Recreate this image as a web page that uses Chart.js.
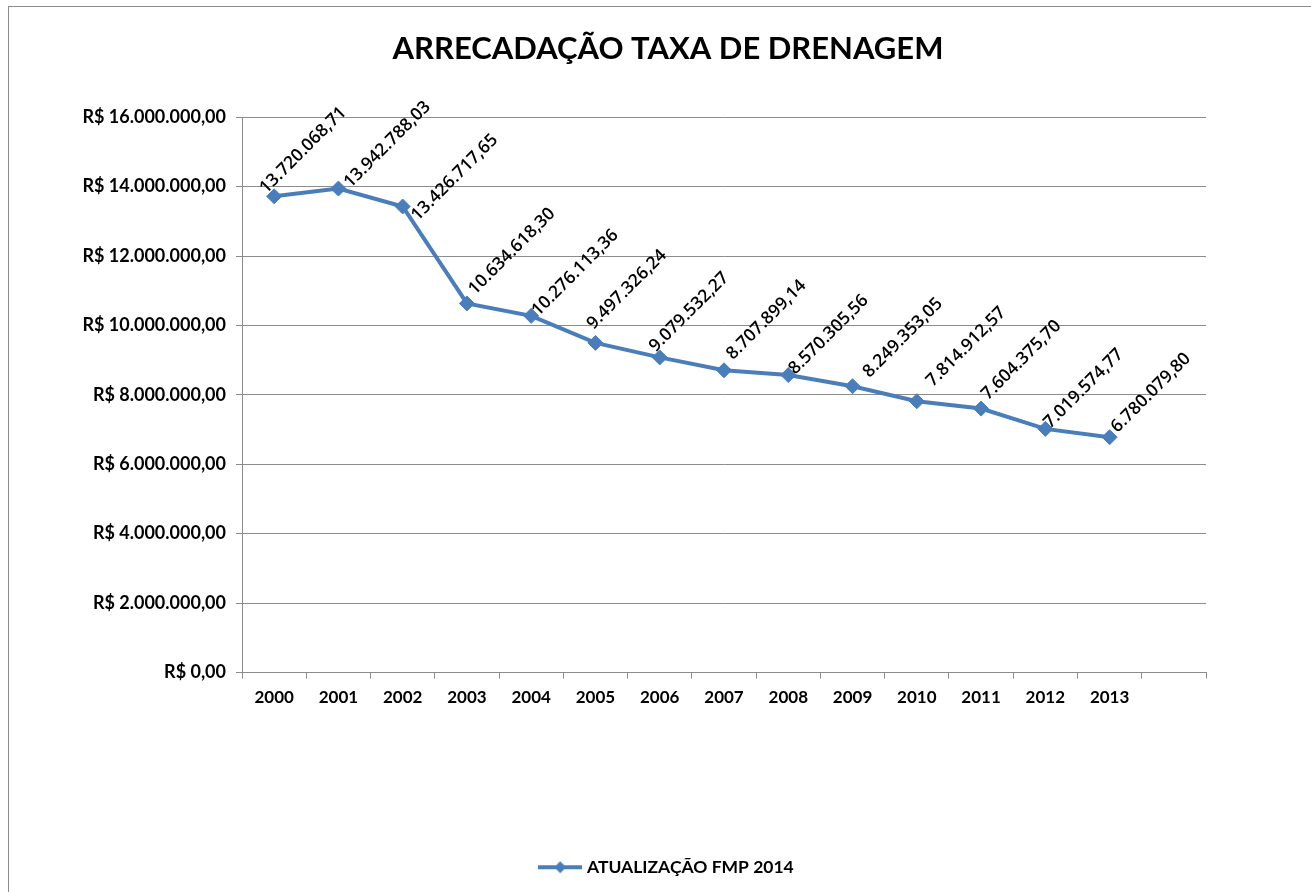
<!DOCTYPE html>
<html>
<head>
<meta charset="utf-8">
<script src="https://cdn.jsdelivr.net/npm/chart.js@4/dist/chart.umd.min.js"></script>
<style>
  html, body { margin: 0; padding: 0; background: #fff; overflow: hidden; }
  canvas { display: block; }
</style>
</head>
<body>
<canvas id="line-chart" width="1311" height="892"></canvas>
<script>
var years = ['2000', '2001', '2002', '2003', '2004', '2005', '2006', '2007',
             '2008', '2009', '2010', '2011', '2012', '2013', ''];
var arrecadacao = [13720068.71, 13942788.03, 13426717.65, 10634618.30, 10276113.36,
                   9497326.24, 9079532.27, 8707899.14, 8570305.56, 8249353.05,
                   7814912.57, 7604375.70, 7019574.77, 6780079.80];
var yTicks = [0, 2000000, 4000000, 6000000, 8000000, 10000000, 12000000, 14000000, 16000000];

var FONT = 'Lato, "Liberation Sans", sans-serif';
var LABEL_FONT = '"Open Sans", Lato, sans-serif';
var BLUE = '#4a7ebb';

// numero no formato brasileiro: 1.234.567,89
function fmtBR(v) {
    var parts = Math.abs(v).toFixed(2).split('.');
    var inteiro = parts[0].replace(/\B(?=(\d{3})+(?!\d))/g, '.');
    return inteiro + ',' + parts[1];
}

// icone da legenda: linha com losango
var legendIcon = document.createElement('canvas');
legendIcon.width = 44;
legendIcon.height = 14;
(function () {
    var c = legendIcon.getContext('2d');
    c.strokeStyle = BLUE;
    c.lineWidth = 4;
    c.beginPath();
    c.moveTo(0, 7);
    c.lineTo(44, 7);
    c.stroke();
    c.fillStyle = BLUE;
    c.beginPath();
    c.moveTo(22, 1);
    c.lineTo(28, 7);
    c.lineTo(22, 13);
    c.lineTo(16, 7);
    c.closePath();
    c.fill();
})();

var frame = {
    id: 'frame',
    beforeDraw: function (chart) {
        var ctx = chart.ctx;
        ctx.save();
        ctx.fillStyle = '#fff';
        ctx.fillRect(0, 0, chart.width, chart.height);
        ctx.strokeStyle = '#8c8c8c';
        ctx.lineWidth = 1;
        ctx.strokeRect(8.5, 6.5, chart.width, chart.height);
        ctx.restore();
    }
};

// rotulos de valor inclinados; pequeno ajuste por ponto como no original
var labelNudge = [[-8, -2], [12, 0], [15, 15], [8, -8], [7, 1], [-2, -13], [-4, -5],
                  [9, -10], [7, 0], [17, -8], [16, -14], [7, -8], [5, 0], [8, -4]];
var valueLabels = {
    id: 'valueLabels',
    afterDatasetsDraw: function (chart) {
        var ctx = chart.ctx;
        var meta = chart.getDatasetMeta(0);
        ctx.save();
        ctx.font = '600 17.5px ' + LABEL_FONT;
        ctx.fillStyle = '#000';
        ctx.textAlign = 'left';
        ctx.textBaseline = 'alphabetic';
        meta.data.forEach(function (pt, i) {
            var v = chart.data.datasets[0].data[i];
            if (v == null) return;
            var n = labelNudge[i] || [7, -4];
            ctx.save();
            ctx.translate(pt.x + n[0], pt.y + n[1]);
            ctx.rotate(-Math.PI / 4);
            ctx.fillText(fmtBR(v), 0, 0);
            ctx.restore();
        });
        ctx.restore();
    }
};

var ctx = document.getElementById('line-chart').getContext('2d');
var myChart = new Chart(ctx, {
    type: 'line',
    data: {
        labels: years,
        datasets: [{
            label: 'ATUALIZAÇÃO FMP 2014',
            data: arrecadacao,
            borderColor: BLUE,
            backgroundColor: BLUE,
            borderWidth: 4,
            pointStyle: 'rectRot',
            pointRadius: 7.5,
            pointBackgroundColor: BLUE,
            pointBorderColor: BLUE,
            pointBorderWidth: 1,
            tension: 0
        }]
    },
    options: {
        responsive: false,
        animation: false,
        devicePixelRatio: 1,
        layout: { padding: { left: 30, right: 5, top: 20, bottom: 6 } },
        plugins: {
            title: {
                display: true,
                text: 'ARRECADAÇÃO TAXA DE DRENAGEM',
                color: '#000',
                font: { family: FONT, size: 31, weight: 'bold' },
                padding: { top: 10, bottom: 50 }
            },
            legend: {
                position: 'bottom',
                labels: {
                    usePointStyle: true,
                    pointStyle: legendIcon,
                    pointStyleWidth: 36,
                    boxHeight: 14,
                    color: '#000',
                    font: { family: FONT, size: 17.5, weight: 'bold' },
                    generateLabels: function (chart) {
                        return [{
                            text: chart.data.datasets[0].label,
                            pointStyle: legendIcon,
                            fillStyle: BLUE,
                            strokeStyle: BLUE,
                            lineWidth: 0,
                            datasetIndex: 0
                        }];
                    }
                }
            },
            tooltip: { enabled: false }
        },
        scales: {
            x: {
                offset: true,
                grid: { offset: true, drawOnChartArea: false, drawTicks: true, tickLength: 6, color: '#8c8c8c' },
                border: { color: '#8c8c8c', width: 1 },
                ticks: {
                    color: '#000',
                    maxRotation: 0,
                    autoSkip: false,
                    padding: 9,
                    font: { family: FONT, size: 17, weight: 'bold' }
                },
                afterFit: function (s) { s.height = 176; }
            },
            y: {
                min: 0,
                max: 16000000,
                afterBuildTicks: function (s) {
                    s.ticks = yTicks.map(function (v) { return { value: v }; });
                },
                grid: { color: '#8c8c8c', tickLength: 6, lineWidth: 1 },
                border: { color: '#8c8c8c', width: 1 },
                ticks: {
                    color: '#000',
                    padding: 10,
                    font: { family: FONT, size: 18, weight: 'bold' },
                    callback: function (v) { return 'R$ ' + fmtBR(v); }
                },
                afterFit: function (s) { s.width = 242 - 30; }
            },
            // eixo vazio a direita, so para reservar a margem da area do grafico
            yRight: {
                type: 'linear',
                position: 'right',
                grid: { display: false },
                border: { display: false },
                ticks: { display: false },
                afterFit: function (s) { s.width = 1306 - 1206; }
            }
        }
    },
    plugins: [frame, valueLabels]
});
</script>
</body>
</html>
